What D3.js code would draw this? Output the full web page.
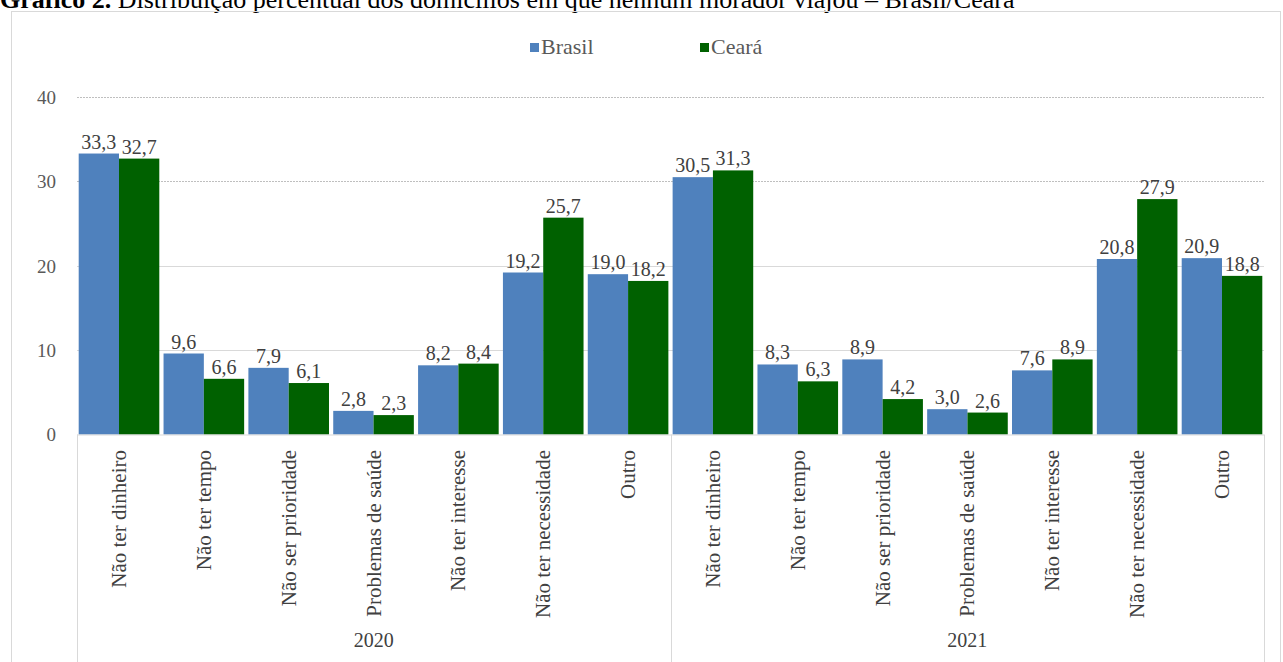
<!DOCTYPE html>
<meta charset="utf-8">
<style>
    body { margin: 0; background: #ffffff; }
    text { font-family: "Liberation Serif", serif; }
</style>
<body>
<div id="chart"></div>
<script src="https://cdn.jsdelivr.net/npm/d3@7"></script>
<script>

    // data
    var years = ["2020", "2021"];
    var reasons = ["Não ter dinheiro", "Não ter tempo", "Não ser prioridade",
                   "Problemas de saúde", "Não ter interesse", "Não ter necessidade", "Outro"];
    var series = ["Brasil", "Ceará"];
    var brasil2020 = [33.3, 9.6, 7.9, 2.8, 8.2, 19.2, 19.0];
    var ceara2020  = [32.7, 6.6, 6.1, 2.3, 8.4, 25.7, 18.2];
    var brasil2021 = [30.5, 8.3, 8.9, 3.0, 7.6, 20.8, 20.9];
    var ceara2021  = [31.3, 6.3, 4.2, 2.6, 8.9, 27.9, 18.8];
    var yTicks = [0, 10, 20, 30, 40];

    var colors = {"Brasil": "#4f81bd", "Ceará": "#006100"};

    var W = 1283, H = 662,
        left = 77, right = 1264,
        y0 = 434.5, yTop = 97;

    var rows = [];
    years.forEach(function (yr, yi) {
        var b = yi == 0 ? brasil2020 : brasil2021,
            c = yi == 0 ? ceara2020 : ceara2021;
        reasons.forEach(function (r, i) {
            rows.push({key: yr + "|" + r, year: yr, reason: r, Brasil: b[i], "Ceará": c[i]});
        });
    });

    var x = d3.scaleBand()
              .domain(rows.map(d => d.key))
              .range([left, right])
              .paddingInner(0.05)
              .paddingOuter(0.02);

    var xs = d3.scaleBand()
               .domain(series)
               .range([0, x.bandwidth()]);

    var y = d3.scaleLinear().domain([0, 40]).range([y0, yTop]);

    var fmt = v => d3.format(".1f")(v).replace(".", ",");

    var svg = d3.select("#chart").append("svg")
                .attr("width", W).attr("height", H);

    // title (cut at the top in the original)
    var title = svg.append("text")
                   .attr("x", 0).attr("y", 8)
                   .attr("font-size", 26)
                   .attr("fill", "#000");
    title.append("tspan").attr("font-weight", "bold").text("Gráfico 2.");
    title.append("tspan").text(" Distribuição percentual dos domicílios em que nenhum morador viajou – Brasil/Ceará");

    // outer chart frame
    svg.append("rect")
       .attr("x", 11.5).attr("y", 11.5)
       .attr("width", 1269).attr("height", 700)
       .attr("fill", "none")
       .attr("stroke", "#d9d9d9");

    // gridlines
    svg.append("g")
       .selectAll("line")
       .data(yTicks.filter(t => t > 0))
       .enter().append("line")
       .attr("x1", left).attr("x2", right)
       .attr("y1", d => Math.round(y(d)) + 0.5)
       .attr("y2", d => Math.round(y(d)) + 0.5)
       .attr("stroke", d => d >= 30 ? "#bfbfbf" : "#d9d9d9")
       .attr("stroke-dasharray", d => d >= 30 ? "2,1" : null);

    // y tick labels
    svg.append("g")
       .selectAll("text")
       .data(yTicks)
       .enter().append("text")
       .attr("x", 56)
       .attr("y", d => y(d))
       .attr("dy", "0.36em")
       .attr("text-anchor", "end")
       .attr("font-family", "DejaVu Sans, sans-serif")
       .attr("font-size", 19)
       .attr("fill", "#595959")
       .text(d => d);

    // bars
    var groups = svg.append("g")
                    .selectAll("g")
                    .data(rows)
                    .enter().append("g")
                    .attr("transform", d => "translate(" + x(d.key) + ",0)");

    groups.selectAll("rect")
          .data(d => series.map(s => ({s: s, v: d[s]})))
          .enter().append("rect")
          .attr("x", d => xs(d.s))
          .attr("width", xs.bandwidth())
          .attr("y", d => y(d.v))
          .attr("height", d => y0 - y(d.v))
          .attr("fill", d => colors[d.s]);

    groups.selectAll("text.val")
          .data(d => series.map(s => ({s: s, v: d[s]})))
          .enter().append("text")
          .attr("class", "val")
          .attr("x", d => xs(d.s) + xs.bandwidth() / 2)
          .attr("y", d => y(d.v) - 5)
          .attr("text-anchor", "middle")
          .attr("font-size", 20)
          .attr("fill", "#404040")
          .text(d => fmt(d.v));

    // category labels (rotated)
    svg.append("g")
       .selectAll("text")
       .data(rows)
       .enter().append("text")
       .attr("transform", d => "translate(" + (x(d.key) + x.bandwidth() / 2 + 7) + "," + 450 + ") rotate(-90)")
       .attr("text-anchor", "end")
       .attr("font-size", 21)
       .attr("fill", "#404040")
       .text(d => d.reason);

    // year separators and labels
    var yearBounds = [left, (x(rows[6].key) + x.bandwidth() + x(rows[7].key)) / 2, right];
    svg.append("g")
       .selectAll("line")
       .data(yearBounds)
       .enter().append("line")
       .attr("x1", d => Math.round(d) + 0.5).attr("x2", d => Math.round(d) + 0.5)
       .attr("y1", y0).attr("y2", H)
       .attr("stroke", "#d9d9d9");

    svg.append("line")
       .attr("x1", left).attr("x2", right)
       .attr("y1", y0 + 0.5).attr("y2", y0 + 0.5)
       .attr("stroke", "#d9d9d9");

    svg.append("g")
       .selectAll("text")
       .data(years)
       .enter().append("text")
       .attr("x", (d, i) => (yearBounds[i] + yearBounds[i + 1]) / 2)
       .attr("y", 647)
       .attr("text-anchor", "middle")
       .attr("font-size", 20)
       .attr("fill", "#404040")
       .text(d => d);

    // legend
    var legend = svg.append("g")
                    .selectAll("g")
                    .data(series)
                    .enter().append("g")
                    .attr("transform", (d, i) => "translate(" + (530 + i * 170) + ",43)");

    legend.append("rect")
          .attr("width", 9).attr("height", 9)
          .attr("fill", d => colors[d]);

    legend.append("text")
          .attr("x", 11).attr("y", 11)
          .attr("font-size", 22)
          .attr("fill", "#595959")
          .text(d => d);

</script>
</body>
